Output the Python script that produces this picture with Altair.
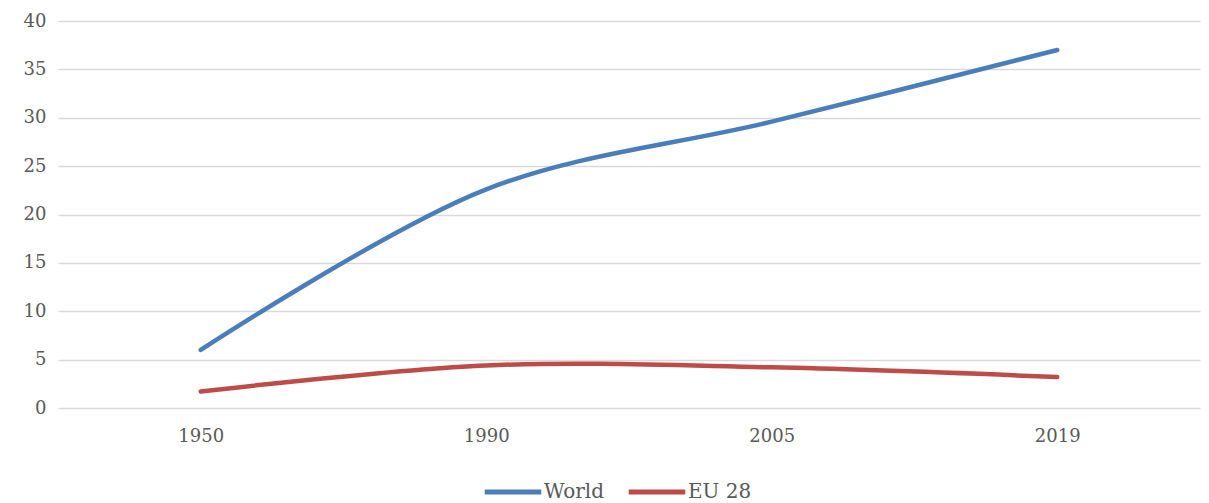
import altair as alt
import pandas as pd

years = ["1950", "1990", "2005", "2019"]
world = [6.0, 22.6, 29.6, 37.0]
eu28 = [1.7, 4.4, 4.2, 3.2]
series_names = ["World", "EU 28"]
colors = ["#4A7EBB", "#BE4B48"]

rows = []
for y, w, e in zip(years, world, eu28):
    rows.append({"year": y, "value": w, "series": "World"})
    rows.append({"year": y, "value": e, "series": "EU 28"})
df = pd.DataFrame(rows)

FONT = "DejaVu Serif"

chart = alt.Chart(df).mark_line(interpolate="catmull-rom", strokeWidth=4.5, strokeCap="round").encode(
    x=alt.X("year:O", sort=years, title=None,
            scale=alt.Scale(paddingInner=1, paddingOuter=0.5),
            axis=alt.Axis(labelAngle=0, ticks=False, domain=False, grid=False,
                          labelPadding=19, labelFontSize=18, labelFont=FONT, labelColor="#595959")),
    y=alt.Y("value:Q", title=None, scale=alt.Scale(domain=[0, 40]),
            axis=alt.Axis(values=list(range(0, 41, 5)), ticks=False, domain=False,
                          labelPadding=12, labelFontSize=18, labelFont=FONT, labelColor="#595959",
                          gridColor="#D9D9D9", gridWidth=1.5)),
    color=alt.Color("series:N", sort=series_names,
                    scale=alt.Scale(domain=series_names, range=colors),
                    legend=alt.Legend(title=None, orient="none", direction="horizontal",
                                      legendX=424, legendY=440,
                                      symbolType="stroke", symbolSize=3200, symbolStrokeWidth=5,
                                      labelFont=FONT, labelFontSize=20, labelColor="#595959",
                                      columnPadding=14, labelOffset=0)),
).properties(
    width=1142, height=387,
    padding={"left": 50, "top": 13, "right": 1, "bottom": 95},
    autosize=alt.AutoSizeParams(type="none")
).configure_view(stroke=None)

chart.save("out.html", embed_options={"renderer": "svg", "actions": False})
